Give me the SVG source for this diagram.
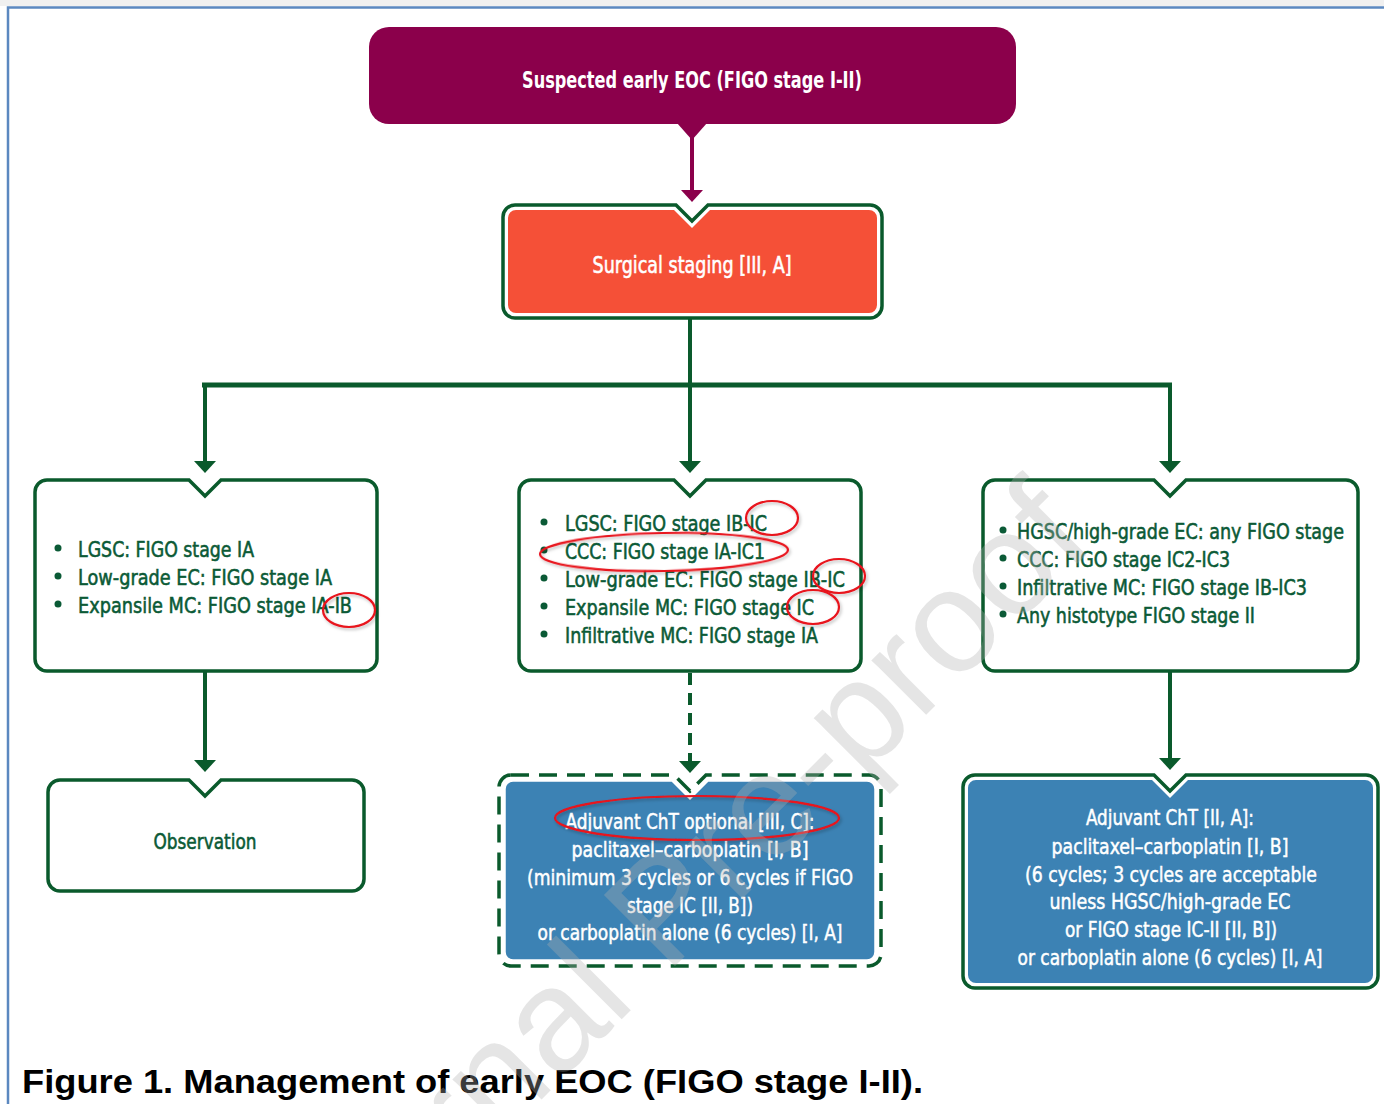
<svg xmlns="http://www.w3.org/2000/svg" width="1384" height="1104" viewBox="0 0 1384 1104">
<style>
.g{fill:#fff;stroke:#0a5a2c;stroke-width:3.5}
.bt{font-family:"Liberation Sans Narrow","DejaVu Sans Condensed","Liberation Sans",sans-serif;font-size:22px;fill:#0b5a36;stroke:#0b5a36;stroke-width:0.55}
.wt{font-family:"Liberation Sans Narrow","DejaVu Sans Condensed","Liberation Sans",sans-serif;font-size:22px;fill:#fff;stroke:#fff;stroke-width:0.5;text-anchor:middle}
.hd{font-family:"Liberation Sans Narrow","DejaVu Sans Condensed","Liberation Sans",sans-serif;font-size:23px;font-weight:bold;fill:#fff;text-anchor:middle}
.dot{fill:#0b5a36}
.red{fill:none;stroke:#e8121c;stroke-width:2.2;filter:url(#sh)}
.ln{stroke:#0a5a2c;stroke-width:4;fill:none}
</style>
<defs>
<marker id="ag" markerUnits="userSpaceOnUse" markerWidth="13" markerHeight="24" viewBox="0 -12 13 24" refX="5" refY="0" orient="auto"><path d="M0,-11 L12,0 L0,11 Z" fill="#0a5a2c"/></marker>
<marker id="ap" markerUnits="userSpaceOnUse" markerWidth="13" markerHeight="24" viewBox="0 -12 13 24" refX="5" refY="0" orient="auto"><path d="M0,-11 L12,0 L0,11 Z" fill="#8b004b"/></marker>
<filter id="sh" x="-20%" y="-40%" width="140%" height="180%"><feDropShadow dx="1.5" dy="2" stdDeviation="1.5" flood-color="#000" flood-opacity="0.25"/></filter>
</defs>
<rect x="0" y="0" width="1384" height="1104" fill="#fff"/>
<rect x="0" y="0" width="1384" height="6" fill="#f0f0f0"/>
<path d="M8,1104 V7.5 H1384" fill="none" stroke="#5b88c0" stroke-width="2.5"/>

<g id="connectors">
<path d="M677,123 L707,123 L692,140 Z" fill="#8b004b"/>
<line x1="692" y1="136" x2="692" y2="195" stroke="#8b004b" stroke-width="4" marker-end="url(#ap)"/>
<line class="ln" x1="690" y1="318" x2="690" y2="385"/>
<line x1="202" y1="385" x2="1172" y2="385" stroke="#0a5a2c" stroke-width="5"/>
<line class="ln" x1="205" y1="385" x2="205" y2="466" marker-end="url(#ag)"/>
<line class="ln" x1="690" y1="385" x2="690" y2="466" marker-end="url(#ag)"/>
<line class="ln" x1="1170" y1="385" x2="1170" y2="466" marker-end="url(#ag)"/>
<line class="ln" x1="205" y1="671" x2="205" y2="765" marker-end="url(#ag)"/>
<line class="ln" x1="690" y1="673" x2="690" y2="766" stroke-dasharray="12 8" marker-end="url(#ag)"/>
<line class="ln" x1="1170" y1="671" x2="1170" y2="763" marker-end="url(#ag)"/>
</g>

<g id="n-suspected">
<rect x="369" y="27" width="647" height="97" rx="20" fill="#8b004b"/>
<text class="hd" x="692" y="88" textLength="340" lengthAdjust="spacingAndGlyphs">Suspected early EOC (FIGO stage I-II)</text>
</g>

<g id="n-surgical">
<path class="g" d="M515,205 H676 L692,221 L708,205 H870 A12,12 0 0 1 882,217 V306 A12,12 0 0 1 870,318 H515 A12,12 0 0 1 503,306 V217 A12,12 0 0 1 515,205 Z"/>
<path fill="#f55037" d="M516,210 H674 L692,228 L710,210 H869 A8,8 0 0 1 877,218 V305 A8,8 0 0 1 869,313 H516 A8,8 0 0 1 508,305 V218 A8,8 0 0 1 516,210 Z"/>
<text class="hd" x="692" y="273" textLength="199" lengthAdjust="spacingAndGlyphs" style="font-weight:normal;stroke:#fff;stroke-width:0.55">Surgical staging [III, A]</text>
</g>

<g id="n-low">
<path class="g" d="M47,480 H189 L205,496 L221,480 H365 A12,12 0 0 1 377,492 V659 A12,12 0 0 1 365,671 H47 A12,12 0 0 1 35,659 V492 A12,12 0 0 1 47,480 Z"/>
<circle class="dot" cx="58" cy="548" r="3.5"/>
<circle class="dot" cx="58" cy="576" r="3.5"/>
<circle class="dot" cx="58" cy="604" r="3.5"/>
<text class="bt" x="78" y="557" textLength="176" lengthAdjust="spacingAndGlyphs">LGSC: FIGO stage IA</text>
<text class="bt" x="78" y="585" textLength="254" lengthAdjust="spacingAndGlyphs">Low-grade EC: FIGO stage IA</text>
<text class="bt" x="78" y="613" textLength="274" lengthAdjust="spacingAndGlyphs">Expansile MC: FIGO stage IA-IB</text>
</g>

<g id="n-mid">
<path class="g" d="M531,480 H674 L690,496 L706,480 H849 A12,12 0 0 1 861,492 V659 A12,12 0 0 1 849,671 H531 A12,12 0 0 1 519,659 V492 A12,12 0 0 1 531,480 Z"/>
<circle class="dot" cx="544" cy="522" r="3.5"/>
<circle class="dot" cx="544" cy="550" r="3.5"/>
<circle class="dot" cx="544" cy="578" r="3.5"/>
<circle class="dot" cx="544" cy="606" r="3.5"/>
<circle class="dot" cx="544" cy="634" r="3.5"/>
<text class="bt" x="565" y="531" textLength="202" lengthAdjust="spacingAndGlyphs">LGSC: FIGO stage IB-IC</text>
<text class="bt" x="565" y="559" textLength="200" lengthAdjust="spacingAndGlyphs">CCC: FIGO stage IA-IC1</text>
<text class="bt" x="565" y="587" textLength="280" lengthAdjust="spacingAndGlyphs">Low-grade EC: FIGO stage IB-IC</text>
<text class="bt" x="565" y="615" textLength="249" lengthAdjust="spacingAndGlyphs">Expansile MC: FIGO stage IC</text>
<text class="bt" x="565" y="643" textLength="253" lengthAdjust="spacingAndGlyphs">Infiltrative MC: FIGO stage IA</text>
</g>

<g id="n-high">
<path class="g" d="M995,480 H1154 L1170,496 L1186,480 H1346 A12,12 0 0 1 1358,492 V659 A12,12 0 0 1 1346,671 H995 A12,12 0 0 1 983,659 V492 A12,12 0 0 1 995,480 Z"/>
<circle class="dot" cx="1003" cy="530" r="3.5"/>
<circle class="dot" cx="1003" cy="558" r="3.5"/>
<circle class="dot" cx="1003" cy="586" r="3.5"/>
<circle class="dot" cx="1003" cy="614" r="3.5"/>
<text class="bt" x="1017" y="539" textLength="327" lengthAdjust="spacingAndGlyphs">HGSC/high-grade EC: any FIGO stage</text>
<text class="bt" x="1017" y="567" textLength="213" lengthAdjust="spacingAndGlyphs">CCC: FIGO stage IC2-IC3</text>
<text class="bt" x="1017" y="595" textLength="290" lengthAdjust="spacingAndGlyphs">Infiltrative MC: FIGO stage IB-IC3</text>
<text class="bt" x="1017" y="623" textLength="238" lengthAdjust="spacingAndGlyphs">Any histotype FIGO stage II</text>
</g>

<g id="n-observation">
<path class="g" d="M60,780 H189 L205,796 L221,780 H352 A12,12 0 0 1 364,792 V879 A12,12 0 0 1 352,891 H60 A12,12 0 0 1 48,879 V792 A12,12 0 0 1 60,780 Z"/>
<text class="bt" x="205" y="849" text-anchor="middle" textLength="103" lengthAdjust="spacingAndGlyphs">Observation</text>
</g>

<g id="n-optional">
<path d="M511,775 H674 L690,791 L706,775 H869 A12,12 0 0 1 881,787 V954 A12,12 0 0 1 869,966 H511 A12,12 0 0 1 499,954 V787 A12,12 0 0 1 511,775 Z" fill="#fff" stroke="#0a5a2c" stroke-width="3.5" stroke-dasharray="18 10"/>
<path fill="#3c82b4" stroke="#fff" stroke-width="1.5" d="M513,781 H672 L690,799 L708,781 H867 A8,8 0 0 1 875,789 V952 A8,8 0 0 1 867,960 H513 A8,8 0 0 1 505,952 V789 A8,8 0 0 1 513,781 Z"/>
<text class="wt" x="690" y="829" textLength="249" lengthAdjust="spacingAndGlyphs">Adjuvant ChT optional [III, C]:</text>
<text class="wt" x="690" y="857" textLength="237" lengthAdjust="spacingAndGlyphs">paclitaxel–carboplatin [I, B]</text>
<text class="wt" x="690" y="885" textLength="326" lengthAdjust="spacingAndGlyphs">(minimum 3 cycles or 6 cycles if FIGO</text>
<text class="wt" x="690" y="913" textLength="126" lengthAdjust="spacingAndGlyphs">stage IC [II, B])</text>
<text class="wt" x="690" y="940" textLength="305" lengthAdjust="spacingAndGlyphs">or carboplatin alone (6 cycles) [I, A]</text>
</g>

<g id="n-adjuvant">
<path class="g" d="M975,775 H1154 L1170,791 L1186,775 H1366 A12,12 0 0 1 1378,787 V976 A12,12 0 0 1 1366,988 H975 A12,12 0 0 1 963,976 V787 A12,12 0 0 1 975,775 Z"/>
<path fill="#3c82b4" d="M976,780 H1152 L1170,798 L1188,780 H1365 A8,8 0 0 1 1373,788 V975 A8,8 0 0 1 1365,983 H976 A8,8 0 0 1 968,975 V788 A8,8 0 0 1 976,780 Z"/>
<text class="wt" x="1170" y="825" textLength="168" lengthAdjust="spacingAndGlyphs">Adjuvant ChT [II, A]:</text>
<text class="wt" x="1170" y="854" textLength="237" lengthAdjust="spacingAndGlyphs">paclitaxel–carboplatin [I, B]</text>
<text class="wt" x="1171" y="882" textLength="292" lengthAdjust="spacingAndGlyphs">(6 cycles; 3 cycles are acceptable</text>
<text class="wt" x="1170" y="909" textLength="241" lengthAdjust="spacingAndGlyphs">unless HGSC/high-grade EC</text>
<text class="wt" x="1171" y="937" textLength="212" lengthAdjust="spacingAndGlyphs">or FIGO stage IC-II [II, B])</text>
<text class="wt" x="1170" y="965" textLength="305" lengthAdjust="spacingAndGlyphs">or carboplatin alone (6 cycles) [I, A]</text>
</g>

<g id="annotations">
<ellipse class="red" cx="349" cy="610" rx="26" ry="17"/>
<ellipse class="red" cx="772" cy="518" rx="26" ry="17"/>
<ellipse class="red" cx="664" cy="552" rx="124" ry="19" transform="rotate(-1 664 552)"/>
<ellipse class="red" cx="839" cy="576" rx="26" ry="17"/>
<ellipse class="red" cx="813" cy="607" rx="26" ry="17"/>
<ellipse class="red" cx="697" cy="818" rx="142" ry="22"/>
</g>

<text x="22" y="1093" font-family="'Liberation Sans',Arial,sans-serif" font-weight="bold" font-size="34" fill="#000" textLength="901" lengthAdjust="spacingAndGlyphs">Figure 1. Management of early EOC (FIGO stage I-II).</text>

<text transform="translate(500,1141) rotate(-45)" x="-284" y="0" font-family="'Liberation Sans',Arial,sans-serif" font-size="146" fill="#b0b0b0" fill-opacity="0.33">Journal Pre-proof</text>
</svg>
